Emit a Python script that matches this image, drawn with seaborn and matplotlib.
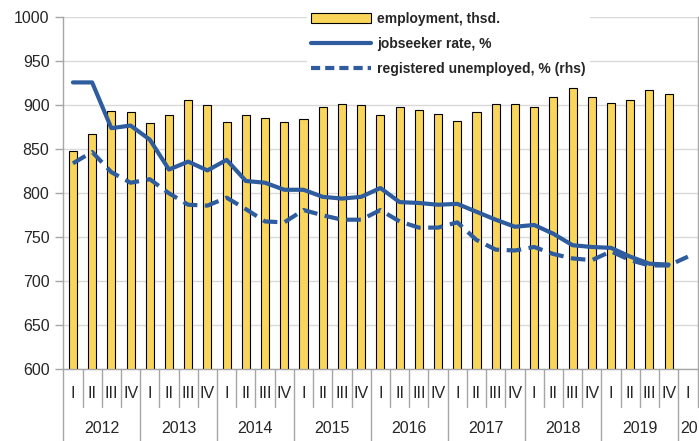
import matplotlib
matplotlib.use('Agg')
from matplotlib import pyplot as plt
from matplotlib.patches import Patch
from matplotlib.lines import Line2D
import seaborn as sns
import numpy as np

quarters = ['I', 'II', 'III', 'IV'] * 8 + ['I']
years = ['2012', '2013', '2014', '2015', '2016', '2017', '2018', '2019', '20']
employment = [848, 867, 894, 892, 880, 889, 906, 900, 881, 889, 886, 881,
              884, 898, 902, 900, 889, 898, 895, 890, 882, 892, 902, 902,
              898, 909, 920, 909, 903, 906, 917, 913]
jobseeker = [926, 926, 874, 877, 861, 827, 836, 826, 838, 814, 812, 804,
             804, 796, 794, 796, 806, 790, 789, 787, 788, 779, 770, 762,
             764, 754, 741, 739, 738, 728, 720, 719]
registered = [834, 847, 824, 812, 816, 800, 787, 786, 795, 782, 768, 767,
              781, 775, 770, 770, 781, 768, 761, 761, 767, 747, 736, 735,
              739, 731, 726, 724, 734, 724, 718, 718, 728]

yellow = '#F9D65B'
blue = '#2E5C9E'
gray = '#A6A6A6'

sns.set_style('white')
plt.rcParams['font.family'] = ['Liberation Sans', 'DejaVu Sans']

fig = plt.figure(figsize=(6.99, 4.41), dpi=100)
ax = fig.add_axes([63.3 / 699, (441 - 369.3) / 441, 634.2 / 699, 352 / 441])

ax.set_ylim(600, 1000)
ax.set_yticks(np.arange(600, 1001, 50))
ax.yaxis.grid(True, color='#D9D9D9', linewidth=1)
ax.set_axisbelow(True)

sns.barplot(x=list(range(len(employment))), y=employment, color=yellow,
            saturation=1, width=0.42, edgecolor='black', linewidth=0.8, ax=ax)
sns.lineplot(x=list(range(len(jobseeker))), y=jobseeker, color=blue,
             linewidth=3, ax=ax)
sns.lineplot(x=list(range(len(registered))), y=registered, color=blue,
             linewidth=3, ax=ax)
ax.lines[-1].set_dashes((3.5, 1.8))

ax.set_xlim(-0.5, len(quarters) - 0.5)
ax.set_ylim(600, 1000)
ax.set_xticks([])
ax.set_xlabel('')
ax.set_ylabel('')

for side in ['left', 'bottom', 'right']:
    ax.spines[side].set_visible(True)
    ax.spines[side].set_color(gray)
    ax.spines[side].set_linewidth(1)
ax.spines['top'].set_visible(False)
ax.tick_params(axis='y', length=6, color=gray, width=1, labelsize=11.5,
               pad=4, left=True)

trans = ax.get_xaxis_transform()
for k in range(len(quarters) + 1):
    bottom = -0.25 if k % 4 == 0 else -0.108
    ax.plot([k - 0.5, k - 0.5], [0, bottom], color=gray, linewidth=1,
            transform=trans, clip_on=False)
for i, q in enumerate(quarters):
    ax.text(i, -0.068, q, transform=trans, ha='center', va='center',
            fontsize=11.5)
for j, yr in enumerate(years):
    if j < 8:
        ax.text(4 * j + 1.5, -0.167, yr, transform=trans, ha='center',
                va='center', fontsize=11.5)
    else:
        ax.text(4 * j - 0.42, -0.167, yr, transform=trans, ha='left',
                va='center', fontsize=11.5)

handles = [Patch(facecolor=yellow, edgecolor='black', linewidth=0.8),
           Line2D([0], [0], color=blue, linewidth=3),
           Line2D([0], [0], color=blue, linewidth=3, dashes=(2.2, 1.2))]
labels = ['employment, thsd.', 'jobseeker rate, %',
          'registered unemployed, % (rhs)']
leg = ax.legend(handles, labels, loc='upper left',
                bbox_to_anchor=(307 / 699, 1 - 8 / 441),
                bbox_transform=fig.transFigure,
                prop={'weight': 'bold', 'size': 10},
                handlelength=4.3, handleheight=0.7, handletextpad=0.45,
                labelspacing=0.78, borderpad=0.3, borderaxespad=0,
                frameon=True, fancybox=False, framealpha=1,
                facecolor='white', edgecolor='none')

fig.savefig('out.png', dpi=100)
